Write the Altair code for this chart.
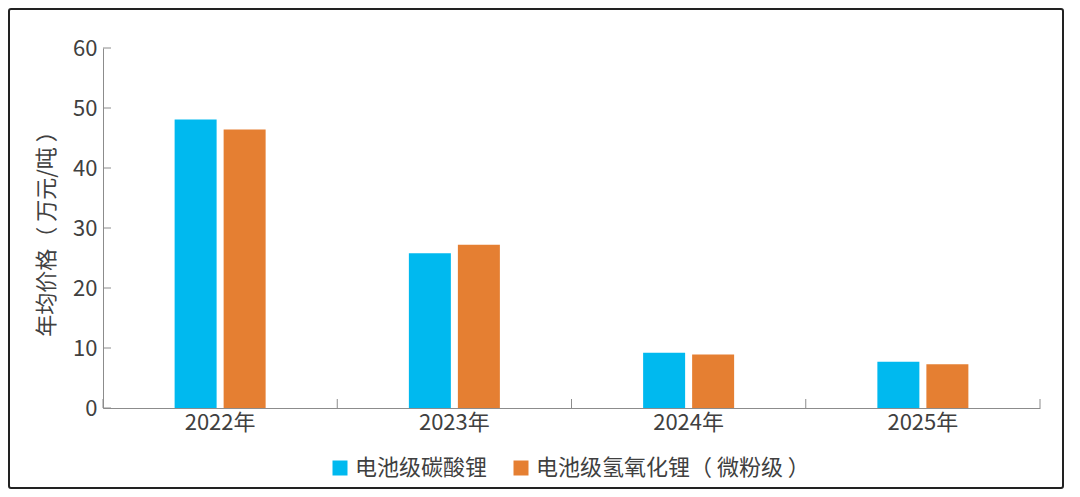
import altair as alt
import pandas as pd

years = ["2022年", "2023年", "2024年", "2025年"]
series = ["电池级碳酸锂", "电池级氢氧化锂（ 微粉级 ）"]
carbonate = [48.1, 25.8, 9.2, 7.7]
hydroxide = [46.4, 27.2, 8.9, 7.3]
y_ticks = [0, 10, 20, 30, 40, 50, 60]
colors = ["#00B9EF", "#E57F32"]

rows = []
for i, y in enumerate(years):
    rows.append({"year": y, "series": series[0], "value": carbonate[i]})
    rows.append({"year": y, "series": series[1], "value": hydroxide[i]})
df = pd.DataFrame(rows)

FONT = "Noto Sans CJK SC"
TXT = "#404040"
AX = "#8c8c8c"
W, H = 937, 360
PL, PR, PT, PB = 95, 24, 40, 81

xscale = alt.Scale(domain=years, paddingInner=0.6115, paddingOuter=0.30575)
xscale_ticks = alt.Scale(domain=years, paddingInner=0, paddingOuter=0)
yscale = alt.Scale(domain=[0, 60], nice=False)

bars = alt.Chart(df).mark_bar().encode(
    x=alt.X("year:N", scale=xscale, sort=years,
            axis=alt.Axis(title=None, labelAngle=0, ticks=False, domainColor=AX,
                          labelFont=FONT, labelFontSize=22, labelColor=TXT, labelPadding=4)),
    xOffset=alt.XOffset("series:N", sort=series,
                        scale=alt.Scale(domain=series, paddingInner=0.143, paddingOuter=0)),
    y=alt.Y("value:Q", scale=yscale,
            axis=alt.Axis(title="年均价格（ 万元/吨 ）", values=y_ticks, ticks=False, grid=False,
                          domainColor=AX, labelFont=FONT, labelFontSize=22, labelColor=TXT,
                          labelPadding=6, titleFont=FONT, titleFontSize=22, titleColor=TXT,
                          titleFontWeight="normal", titlePadding=14)),
    color=alt.Color("series:N", sort=series,
                    scale=alt.Scale(domain=series, range=colors),
                    legend=alt.Legend(title=None, orient="none", direction="horizontal",
                                      legendX=226, legendY=409, symbolType="square",
                                      symbolSize=225, symbolStrokeWidth=0, labelFont=FONT,
                                      labelFontSize=22, labelColor=TXT, columnPadding=22,
                                      labelLimit=0, symbolOffset=0, labelOffset=4)),
)

ytick_df = pd.DataFrame({"v": y_ticks})
yticks = alt.Chart(ytick_df).mark_rule(color=AX, strokeWidth=1).encode(
    y=alt.Y("v:Q", scale=yscale),
    x=alt.value(0), x2=alt.value(8),
)

xtick_df = pd.DataFrame({"year": years})
xticks = alt.Chart(xtick_df).mark_rule(color=AX, strokeWidth=1).encode(
    x=alt.X("year:N", scale=xscale_ticks, sort=years, bandPosition=0, axis=None),
    y=alt.value(H - 9), y2=alt.value(H),
)
xtick_end = alt.Chart(pd.DataFrame({"year": [years[-1]]})).mark_rule(color=AX, strokeWidth=1).encode(
    x=alt.X("year:N", scale=xscale_ticks, sort=years, bandPosition=1, axis=None),
    y=alt.value(H - 9), y2=alt.value(H),
)
ticks_layer = alt.layer(xticks, xtick_end)

border = alt.Chart(alt.Data(values=[{"a": 1}])).mark_rect(
    fill=None, stroke="#222222", strokeWidth=2, cornerRadius=2
).encode(
    x=alt.value(-PL + 1), x2=alt.value(W + PR - 1),
    y=alt.value(-PT + 1), y2=alt.value(H + PB - 1),
)

chart = alt.layer(bars, yticks, ticks_layer, border).resolve_scale(x="independent").properties(
    width=W, height=H,
    autosize=alt.AutoSizeParams(type="none"),
    padding={"left": PL, "right": PR, "top": PT, "bottom": PB},
    background="white",
).configure_view(stroke=None)

chart.save("out.html", embed_options={"renderer": "svg", "actions": False})
